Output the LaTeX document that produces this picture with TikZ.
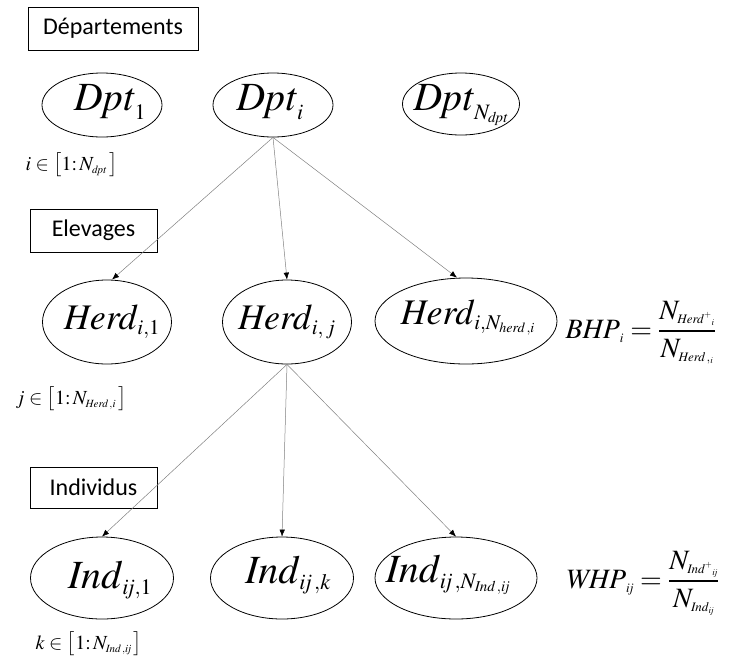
\documentclass[tikz,border=0pt]{standalone}
\usepackage{mathptmx}
\usepackage[no-math]{fontspec}
\usetikzlibrary{shapes.geometric,arrows.meta}
\newfontfamily\boxfont{Carlito}
\DeclareMathSizes{40}{40}{22}{15}
\DeclareMathSizes{36}{36}{21}{14}
\DeclareMathSizes{28}{28}{13}{9}
\DeclareMathSizes{20}{20}{11}{8}
\begin{document}
\begin{tikzpicture}[x=1pt,y=-1pt]
\tikzset{ell/.style={draw,ellipse,line width=0.8pt,inner sep=0pt},
    lvl/.style={draw,line width=0.6pt,inner sep=0pt,font=\boxfont\fontsize{24}{28}\selectfont},
    big/.style={anchor=base,font=\fontsize{40}{48}\selectfont},
    mid/.style={anchor=base,font=\fontsize{36}{43}\selectfont},
    idx/.style={anchor=west,font=\fontsize{20}{24}\selectfont},
    rat/.style={anchor=base west,font=\fontsize{28}{34}\selectfont},
    arr/.style={draw=gray,line width=0.5pt,-{Latex[black,length=7pt,width=5.5pt]}}}
\useasboundingbox (0,0) rectangle (733,662);
\node[lvl,minimum width=170pt,minimum height=43pt] (dep) at (113,28.5) {Départements};
\node[lvl,minimum width=127pt,minimum height=43pt] (elev) at (93.5,230.5) {Elevages};
\node[lvl,minimum width=127pt,minimum height=41pt] (indiv) at (93.5,487.5) {Individus};
\node[ell,minimum width=120pt,minimum height=64pt] (dpt1) at (102,105) {};
\node[ell,minimum width=120pt,minimum height=64pt] (dpti) at (273,105) {};
\node[ell,minimum width=117pt,minimum height=62pt] (dptN) at (461,104) {};
\node[big] (dpt1t) at (110,110) {$\mathit{Dpt}_{1}$};
\node[big] (dptit) at (270,110) {$\mathit{Dpt}_{i}$};
\node[big] (dptNt) at (461,110) {$\mathit{Dpt}_{N_{\mathit{dpt}}}$};
\node[ell,minimum width=129pt,minimum height=84pt] (herd1) at (107,322) {};
\node[ell,minimum width=129pt,minimum height=84pt] (herdj) at (287,322) {};
\node[ell,minimum width=182pt,minimum height=86pt] (herdN) at (466,321) {};
\node[mid] (herd1t) at (112,329) {$\mathit{Herd}_{i,1}$};
\node[mid] (herdjt) at (287,329) {$\mathit{Herd}_{i,\,j}$};
\node[mid] (herdNt) at (468,324) {$\mathit{Herd}_{i,N_{\mathit{herd}\,,i}}$};
\node[ell,minimum width=143pt,minimum height=82pt] (ind1) at (102,578) {};
\node[ell,minimum width=143pt,minimum height=82pt] (indk) at (282,578) {};
\node[ell,minimum width=162pt,minimum height=82pt] (indN) at (456,578) {};
\node[big] (ind1t) at (110,588) {$\mathit{Ind}_{\mathit{ij},1}$};
\node[big] (indkt) at (288,583) {$\mathit{Ind}_{\mathit{ij}\,,k}$};
\node[big] (indNt) at (448,582) {$\mathit{Ind}_{\mathit{ij}\,,N_{\mathit{Ind}\,,\mathit{ij}}}$};
\node[idx] (irange) at (22,165) {$i\in\big[1\colon N_{\mathit{dpt}}\,\big]$};
\node[idx] (jrange) at (12,399) {$j\in\big[1\colon N_{\mathit{Herd}\,,i}\,\big]$};
\node[idx] (krange) at (32,644) {$k\in\big[1\colon N_{\mathit{Ind}\,,\mathit{ij}}\,\big]$};
\node[rat] (bhp) at (562,338) {$\mathit{BHP}_{i}=\displaystyle\frac{N_{\mathit{Herd}^{+}{}_{i}}}{N_{\mathit{Herd}\,,{}_{i}}}$};
\node[rat] (whp) at (562,588) {$\mathit{WHP}_{\mathit{ij}}=\displaystyle\frac{N_{\mathit{Ind}^{+}{}_{\mathit{ij}}}}{N_{\mathit{Ind}_{\mathit{ij}}}}$};
\draw[arr] (dpti.south) -- ([xshift=5pt]herd1.north);
\draw[arr] (dpti.south) -- (herdj.north);
\draw[arr] (dpti.south) -- ([xshift=-9pt]herdN.north);
\draw[arr] (herdj.south) -- (ind1.north);
\draw[arr] (herdj.south) -- (indk.north);
\draw[arr] (herdj.south) -- (indN.north);
\end{tikzpicture}
\end{document}
